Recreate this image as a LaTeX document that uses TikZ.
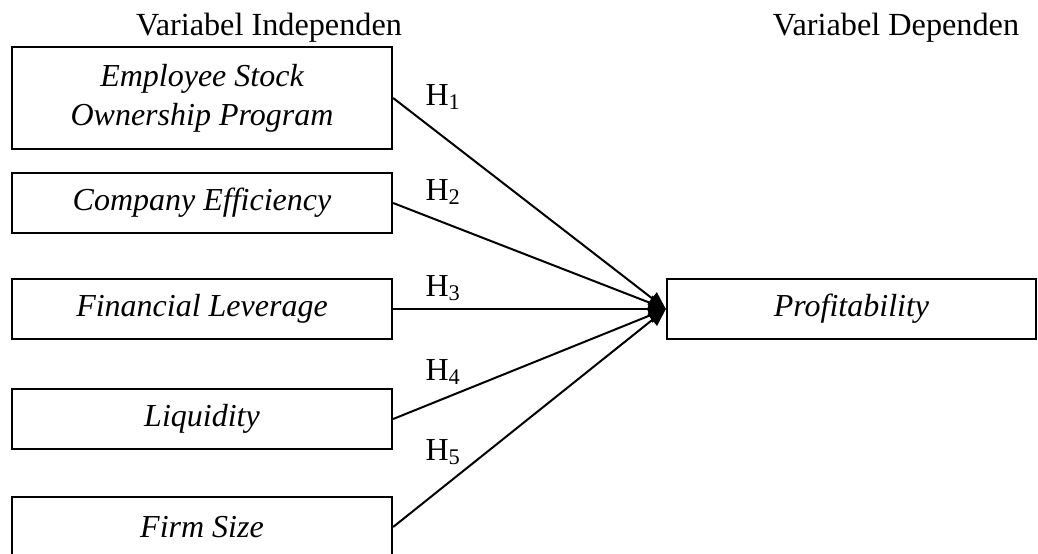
\documentclass[tikz,border=0pt]{standalone}
\usepackage{fontspec}
\setmainfont{Liberation Serif}
\usetikzlibrary{arrows.meta,positioning}
\tikzset{
    varbox/.style={
        draw,
        line width=0.9pt,
        minimum width=152pt,
        minimum height=24pt,
        inner sep=0pt,
        align=center,
        font=\fontsize{12.8pt}{15.6pt}\selectfont\itshape
    },
    hyp/.style={
        draw,
        line width=0.8pt,
        -{Triangle[length=7pt, width=6pt]}
    },
    hlabel/.style={
        anchor=west,
        inner sep=0pt,
        font=\fontsize{12.8pt}{14pt}\selectfont
    }
}

\begin{document}
\begin{tikzpicture}[x=0.4pt, y=-0.4pt]
    \useasboundingbox (0,0) rectangle (1038,553);

    % Headings
    \node[anchor=base, inner sep=0pt, font=\fontsize{12.9pt}{14pt}\selectfont] (indep) at (269,35) {Variabel Independen};
    \node[anchor=base, inner sep=0pt, font=\fontsize{12.9pt}{14pt}\selectfont] (dep) at (896,35) {Variabel Dependen};

    % Independent variables
    \node[varbox, minimum height=40.8pt] (esop) at (202,98) {Employee Stock\\Ownership Program};
    \node[varbox] (eff) at (202,203) {Company Efficiency};
    \node[varbox] (lev) at (202,309) {Financial Leverage};
    \node[varbox] (liq) at (202,419) {Liquidity};
    \node[varbox] (size) at (202,527) {Firm Size};

    % Dependent variable
    \node[varbox, minimum width=147.6pt] (prof) at (851.5,309) {Profitability};

    % Hypotheses
    \draw[hyp] (esop.east) -- (prof.west);
    \draw[hyp] (eff.east) -- (prof.west);
    \draw[hyp] (lev.east) -- (prof.west);
    \draw[hyp] (liq.east) -- (prof.west);
    \draw[hyp] (size.east) -- (prof.west);

    \node[hlabel] (h1) at (425,97) {H\textsubscript{1}};
    \node[hlabel] (h2) at (425,192) {H\textsubscript{2}};
    \node[hlabel] (h3) at (425,288) {H\textsubscript{3}};
    \node[hlabel] (h4) at (425,372) {H\textsubscript{4}};
    \node[hlabel] (h5) at (425,452) {H\textsubscript{5}};
\end{tikzpicture}
\end{document}
